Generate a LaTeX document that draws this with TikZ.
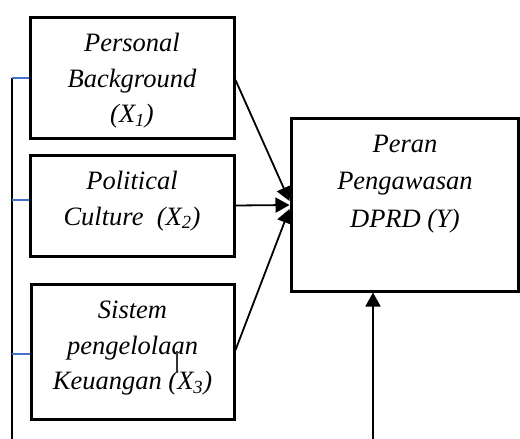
\documentclass[tikz,border=0pt]{standalone}
\usepackage{fontspec}
\setmainfont{Liberation Serif}
\usetikzlibrary{arrows.meta,calc}
\definecolor{tickblue}{RGB}{68,114,196}
\begin{document}
\begin{tikzpicture}[x=1pt,y=-1pt,
  box/.style={draw=black,line width=3pt,inner sep=0pt},
  txt/.style={font=\fontsize{26.5}{35.5}\selectfont\itshape,align=center,inner sep=0pt},
  txty/.style={font=\fontsize{26.5}{37.5}\selectfont\itshape,align=center,inner sep=0pt},
  conn/.style={draw=black,line width=1.8pt,-{Triangle[length=14pt,width=15pt]}},
  tickline/.style={draw=tickblue,line width=1.5pt},
  spine/.style={draw=black,line width=1.3pt},
  stray/.style={draw=black!80,line width=1.3pt}]
\useasboundingbox (0,0) rectangle (520,439);
% boxes
\node[box,minimum width=204pt,minimum height=121pt] (b1) at (132,77.5) {};
\node[box,minimum width=204pt,minimum height=101pt] (b2) at (132,205.5) {};
\node[box,minimum width=203pt,minimum height=135pt] (b3) at (132.5,351.5) {};
\node[box,minimum width=227pt,minimum height=173pt] (bY) at (404.5,204.5) {};
% texts
\node[txt] (t1) at (132,81) {Personal\\Background\\(X\textsubscript{1})};
\node[txt] (t2) at (132,201) {Political\\Culture\ \ (X\textsubscript{2})};
\node[txt] (t3) at (132.5,348.5) {Sistem\\pengelolaan\\Keuangan (X\textsubscript{3})};
\node[txty] (tY) at (405,184) {Peran\\Pengawasan\\DPRD (Y)};
% arrows into Y
\draw[conn] ($(b1.east)+(0,2.5)$) -- ($(bY.west)+(0,-3.5)$);
\draw[conn] (b2.east) -- ($(bY.west)+(0,0.5)$);
\draw[conn] ($(b3.east)+(0,-1.5)$) -- ($(bY.west)+(0,4.5)$);
% bottom arrow
\coordinate (bot) at (373,439);
\draw[conn] (bot) -- (bot |- bY.south);
% left spine and ticks
\coordinate (sTop) at (12,78);
\coordinate (sMid) at (12,200);
\coordinate (sLow) at (12,354);
\coordinate (sBot) at (12,439);
\draw[spine] (sTop) -- (sBot);
\draw[tickline] (sTop) -- (sTop -| b1.west);
\draw[tickline] (sMid) -- (sMid -| b2.west);
\draw[tickline] (sLow) -- (sLow -| b3.west);
% stray mark inside X3 box
\coordinate (m1) at (177,351);
\coordinate (m2) at (177,373);
\draw[stray] (m1) -- (m2);
\end{tikzpicture}
\end{document}
